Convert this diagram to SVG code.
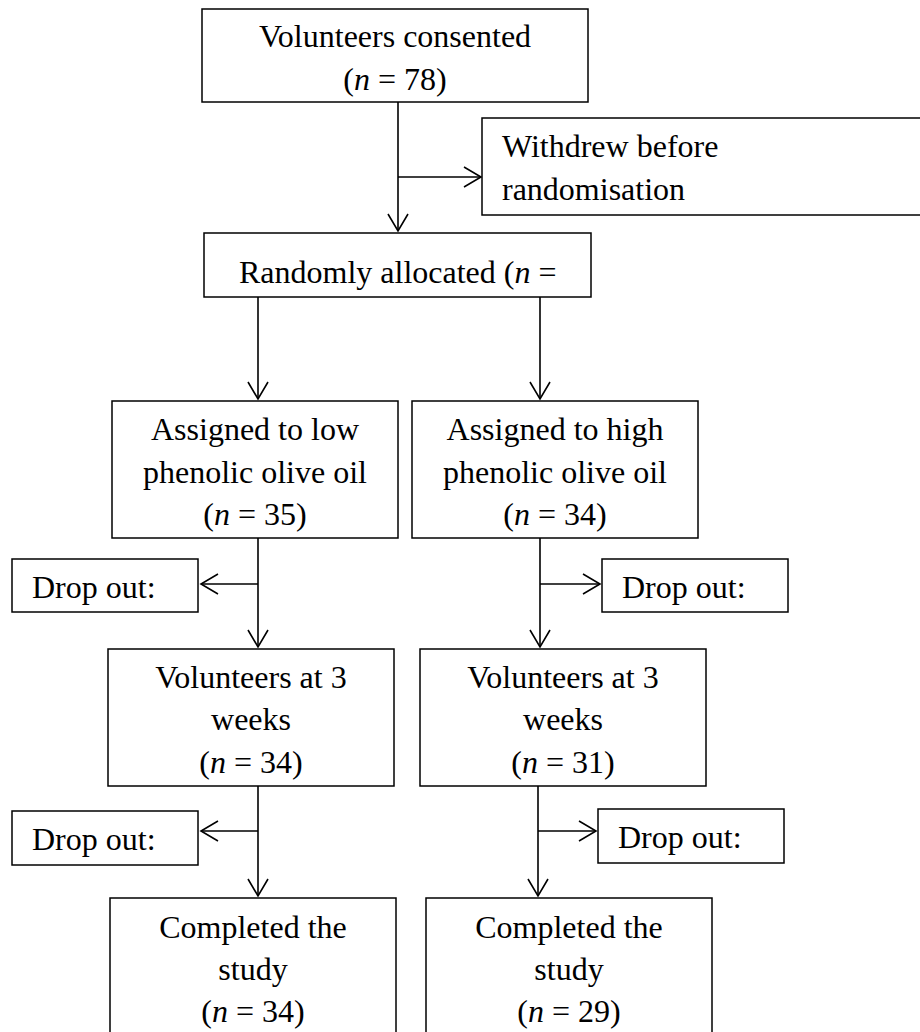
<svg xmlns="http://www.w3.org/2000/svg" width="920" height="1032" viewBox="0 0 920 1032">
<defs>
<style>
.box{fill:#fff;stroke:#000;stroke-width:1.5}
.ln{fill:none;stroke:#000;stroke-width:1.6}
text{font-family:"Liberation Serif","Times New Roman",serif;font-size:32px;fill:#000}
.c{text-anchor:middle}
</style>
<marker id="ah" viewBox="0 0 20 24" refX="18" refY="12" markerWidth="20" markerHeight="24" markerUnits="userSpaceOnUse" orient="auto">
<path d="M1,2 L18,12 L1,22" fill="none" stroke="#000" stroke-width="1.6"/>
</marker>
</defs>
<rect width="920" height="1032" fill="#fff"/>
<g id="connectors">
<line class="ln" x1="398" y1="102" x2="398" y2="231" marker-end="url(#ah)"/>
<line class="ln" x1="398" y1="177" x2="481" y2="177" marker-end="url(#ah)"/>
<line class="ln" x1="258" y1="297" x2="258" y2="399" marker-end="url(#ah)"/>
<line class="ln" x1="540" y1="297" x2="540" y2="399" marker-end="url(#ah)"/>
<line class="ln" x1="258" y1="538" x2="258" y2="647" marker-end="url(#ah)"/>
<line class="ln" x1="258" y1="584" x2="201" y2="584" marker-end="url(#ah)"/>
<line class="ln" x1="540" y1="538" x2="540" y2="647" marker-end="url(#ah)"/>
<line class="ln" x1="540" y1="584" x2="600" y2="584" marker-end="url(#ah)"/>
<line class="ln" x1="258" y1="786" x2="258" y2="896" marker-end="url(#ah)"/>
<line class="ln" x1="258" y1="831" x2="201" y2="831" marker-end="url(#ah)"/>
<line class="ln" x1="538" y1="786" x2="538" y2="896" marker-end="url(#ah)"/>
<line class="ln" x1="538" y1="831" x2="596" y2="831" marker-end="url(#ah)"/>
</g>
<g id="consented">
<rect class="box" x="202" y="9" width="386" height="93"/>
<text class="c" x="395" y="47">Volunteers consented</text>
<text class="c" x="395" y="90">(<tspan font-style="italic">n</tspan> = 78)</text>
</g>
<g id="withdrew">
<rect class="box" x="482" y="118" width="460" height="97"/>
<text x="502" y="157">Withdrew before</text>
<text x="502" y="200">randomisation</text>
</g>
<g id="random">
<rect class="box" x="204" y="233" width="387" height="64"/>
<text x="239" y="283">Randomly allocated (<tspan font-style="italic">n</tspan> =</text>
</g>
<g id="low">
<rect class="box" x="112" y="401" width="286" height="137"/>
<text class="c" x="255" y="440">Assigned to low</text>
<text class="c" x="255" y="483">phenolic olive oil</text>
<text class="c" x="255" y="525">(<tspan font-style="italic">n</tspan> = 35)</text>
</g>
<g id="high">
<rect class="box" x="412" y="401" width="286" height="137"/>
<text class="c" x="555" y="440">Assigned to high</text>
<text class="c" x="555" y="483">phenolic olive oil</text>
<text class="c" x="555" y="525">(<tspan font-style="italic">n</tspan> = 34)</text>
</g>
<g id="drop1l">
<rect class="box" x="12" y="559" width="186" height="53"/>
<text x="32" y="598">Drop out:</text>
</g>
<g id="drop1r">
<rect class="box" x="602" y="559" width="186" height="53"/>
<text x="622" y="598">Drop out:</text>
</g>
<g id="wk3l">
<rect class="box" x="108" y="649" width="286" height="137"/>
<text class="c" x="251" y="688">Volunteers at 3</text>
<text class="c" x="251" y="730">weeks</text>
<text class="c" x="251" y="773">(<tspan font-style="italic">n</tspan> = 34)</text>
</g>
<g id="wk3r">
<rect class="box" x="420" y="649" width="286" height="137"/>
<text class="c" x="563" y="688">Volunteers at 3</text>
<text class="c" x="563" y="730">weeks</text>
<text class="c" x="563" y="773">(<tspan font-style="italic">n</tspan> = 31)</text>
</g>
<g id="drop2l">
<rect class="box" x="12" y="811" width="186" height="54"/>
<text x="32" y="850">Drop out:</text>
</g>
<g id="drop2r">
<rect class="box" x="598" y="809" width="186" height="54"/>
<text x="618" y="848">Drop out:</text>
</g>
<g id="donel">
<rect class="box" x="110" y="898" width="286" height="160"/>
<text class="c" x="253" y="938">Completed the</text>
<text class="c" x="253" y="980">study</text>
<text class="c" x="253" y="1022">(<tspan font-style="italic">n</tspan> = 34)</text>
</g>
<g id="doner">
<rect class="box" x="426" y="898" width="286" height="160"/>
<text class="c" x="569" y="938">Completed the</text>
<text class="c" x="569" y="980">study</text>
<text class="c" x="569" y="1022">(<tspan font-style="italic">n</tspan> = 29)</text>
</g>
</svg>
